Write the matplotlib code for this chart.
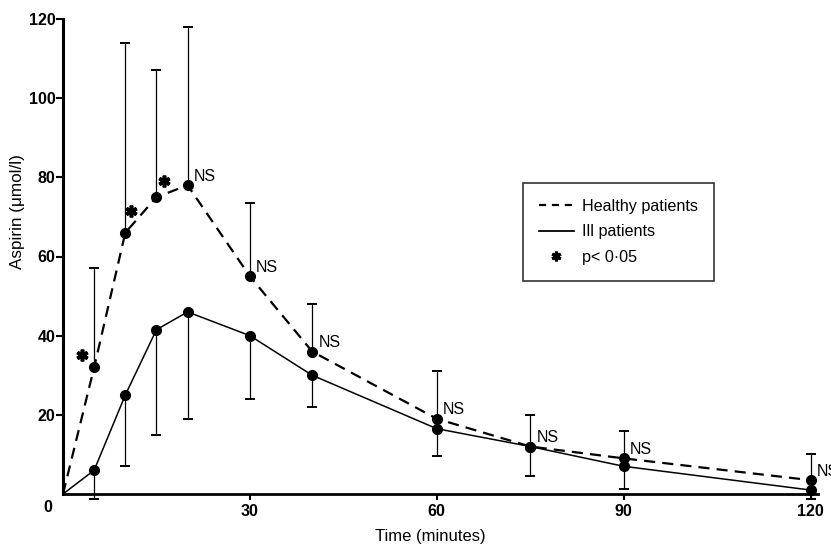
import matplotlib
matplotlib.use("Agg")
import matplotlib.pyplot as plt
from matplotlib.lines import Line2D
from matplotlib.transforms import ScaledTranslation
import numpy as np

plt.rcParams['font.family'] = ['Liberation Sans', 'DejaVu Sans']

# ---- data ----
time = [0, 5, 10, 15, 20, 30, 40, 60, 75, 90, 120]
healthy = [0, 32, 66, 75, 78, 55, 36, 19, 12, 9, 3.5]
healthy_err_up = [0, 25, 48, 32, 40, 18.5, 12, 12, 8, 7, 6.5]
ill = [0, 6, 25, 41.5, 46, 40, 30, 16.5, 12, 7, 1]
ill_err_down = [0, 7.3, 18, 26.5, 27, 16, 8, 7, 7.5, 5.7, 2.3]
significance = ['', '*', '*', '*', 'NS', 'NS', 'NS', 'NS', 'NS', 'NS', 'NS']
xticks = [30, 60, 90, 120]
yticks = [20, 40, 60, 80, 100, 120]

fig = plt.figure(figsize=(8.31, 5.45), dpi=100)
ax = fig.add_axes([63/831, 1-494/545, (818-63)/831, (494-19)/545])

t = np.array(time)
h = np.array(healthy)
il = np.array(ill)

# lines
ax.plot(t, h, color='black', lw=1.6, ls=(0, (5, 3.2)), marker='o', ms=7,
        markevery=slice(1, None), clip_on=False, zorder=3)
ax.plot(t, il, color='black', lw=1.1, ls='-', marker='o', ms=7,
        markevery=slice(1, None), clip_on=False, zorder=3)

# error bars
eb1 = ax.errorbar(t[1:], h[1:], yerr=[np.zeros(len(t)-1), np.array(healthy_err_up)[1:]],
                  fmt='none', ecolor='black', elinewidth=0.9, capsize=3.3, capthick=1.4)
eb2 = ax.errorbar(t[1:], il[1:], yerr=[np.array(ill_err_down)[1:], np.zeros(len(t)-1)],
                  fmt='none', ecolor='black', elinewidth=0.9, capsize=3.3, capthick=1.4)
for eb in (eb1, eb2):
    for art in list(eb.lines[1]) + list(eb.lines[2]):
        art.set_clip_on(False)

# significance annotations
star_offsets = {1: (-9, 9), 2: (3.8, 16), 3: (5.8, 11.5)}
for i, (x, y, s) in enumerate(zip(time, healthy, significance)):
    if s == '*':
        dx, dy = star_offsets.get(i, (5, 10))
        ax.plot([x], [y], linestyle='none', marker=(6, 2, 0), ms=8.5, mew=2.6,
                color='black', clip_on=False,
                transform=ax.transData + ScaledTranslation(dx/72, dy/72, fig.dpi_scale_trans))
    elif s == 'NS':
        ax.annotate('NS', xy=(x, y), xytext=(4.5, 6.5), textcoords='offset points',
                    ha='left', va='center', fontsize=11.5, annotation_clip=False)

# axes styling
ax.set_xlim(0, 121.2)
ax.set_ylim(0, 120)
for side in ('top', 'right'):
    ax.spines[side].set_visible(False)
ax.spines['left'].set_linewidth(2.2)
ax.spines['bottom'].set_linewidth(2.0)
ax.set_xticks(xticks)
ax.set_yticks(yticks)
ax.set_xticklabels([str(v) for v in xticks], fontweight='bold', fontsize=11.5)
ax.set_yticklabels([str(v) for v in yticks], fontweight='bold', fontsize=11.5)
ax.tick_params(axis='y', direction='out', length=5, width=1.5, pad=0.5)
ax.tick_params(axis='x', direction='out', length=4, width=1.5, pad=3)
ax.annotate('0', xy=(0, 0), xytext=(-11, -10), textcoords='offset points',
            ha='center', va='center', fontweight='bold', fontsize=11.5,
            annotation_clip=False)

ax.set_xlabel('Time (minutes)', fontsize=12)
ax.xaxis.label.set_va('center')
ax.xaxis.set_label_coords((430.5-63)/(818-63), -(537-494)/(494-19))
fig.text(18/831, 1-212/545, 'Aspirin (\u03bcmol/l)', rotation=90,
         ha='center', va='center', fontsize=12.3)

# legend
handles = [
    Line2D([], [], color='black', lw=1.6, ls=(0, (3.2, 2.6))),
    Line2D([], [], color='black', lw=1.3, ls='-'),
    Line2D([], [], color='black', ls='none', marker=(6, 2, 0), ms=7, mew=2.2),
]
labels = ['Healthy patients', 'Ill patients', 'p< 0\u00b705']
leg = fig.legend(handles, labels, loc='upper left',
                 bbox_to_anchor=(523/831, 1-183/545), fontsize=11.6,
                 frameon=True, fancybox=False, edgecolor='black',
                 handlelength=2.2, handletextpad=0.5, labelspacing=0.66,
                 borderpad=0.97, borderaxespad=0)
leg.get_frame().set_linewidth(1.2)

fig.savefig('out.png', dpi=100)
